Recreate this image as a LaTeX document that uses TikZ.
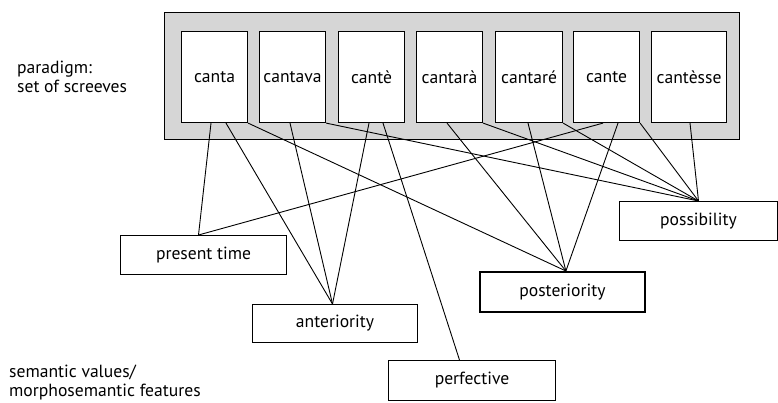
\documentclass[tikz,border=0pt]{standalone}
\usepackage{fontspec}
\setmainfont{PT Sans}
\begin{document}
\begin{tikzpicture}[x=1pt,y=-1pt,
  form/.style={draw=black,line width=1.1pt,fill=white,minimum width=66pt,minimum height=91pt,inner sep=0pt,anchor=north west,font=\fontsize{17.6}{19}\selectfont},
  feat/.style={draw=black,line width=1pt,fill=white,minimum height=39pt,inner sep=0pt,anchor=north west,font=\fontsize{17.6}{19}\selectfont},
  link/.style={draw=black,line width=0.9pt},
  lbl/.style={anchor=west,align=left,inner sep=0pt,font=\fontsize{17.6}{19}\selectfont}]
\useasboundingbox (0,0) rectangle (778,403);
\node[draw=black,line width=1.1pt,fill=black!16,minimum width=575pt,minimum height=127pt,inner sep=0pt,anchor=north west] (frame) at (164,12) {};
\node[form] (f1) at (181,31) {canta};
\node[form] (f2) at (259,31) {cantava};
\node[form] (f3) at (338,31) {cantè};
\node[form] (f4) at (416,31) {cantarà};
\node[form,minimum width=67pt] (f5) at (495,31) {cantaré};
\node[form] (f6) at (573,31) {cante};
\node[form,minimum width=75pt] (f7) at (651,31) {cantèsse};
\node[feat,minimum width=166pt] (pres) at (120,235) {present time};
\node[feat,minimum width=165pt,minimum height=38pt] (ant) at (252,304) {anteriority};
\node[feat,minimum width=167pt,minimum height=40pt] (perf) at (388,360) {perfective};
\node[feat,minimum width=165pt,minimum height=40pt,line width=1.8pt] (post) at (479,271) {posteriority};
\node[feat,minimum width=158pt] (poss) at (619,201) {possibility};
\node[lbl] (l1) at (17,77) {paradigm:\\set of screeves};
\node[lbl] (l2) at (9,382) {semantic values/\\morphosemantic features};
% links
\draw[link] ([xshift=30pt]f1.south west) -- ([xshift=-5pt]pres.north);
\draw[link] ([xshift=45pt]f1.south west) -- ([xshift=-2.5pt]ant.north);
\draw[link] (f1.south east) -- ([xshift=3.5pt]post.north);
\draw[link] ([xshift=31pt]f2.south west) -- ([xshift=-2.5pt]ant.north);
\draw[link] (f2.south east) -- (poss.north);
\draw[link] ([xshift=31pt]f3.south west) -- ([xshift=-2.5pt]ant.north);
\draw[link] ([xshift=45pt]f3.south west) -- ([xshift=-12.5pt]perf.north);
\draw[link] ([xshift=31pt]f4.south west) -- ([xshift=3.5pt]post.north);
\draw[link] (f4.south east) -- (poss.north);
\draw[link] ([xshift=33pt]f5.south west) -- ([xshift=3.5pt]post.north);
\draw[link] (f5.south east) -- (poss.north);
\draw[link] ([xshift=30pt]f6.south west) -- ([xshift=-5pt]pres.north);
\draw[link] ([xshift=45pt]f6.south west) -- ([xshift=3.5pt]post.north);
\draw[link] (f6.south east) -- (poss.north);
\draw[link] ([xshift=39pt]f7.south west) -- (poss.north);
\end{tikzpicture}
\end{document}
